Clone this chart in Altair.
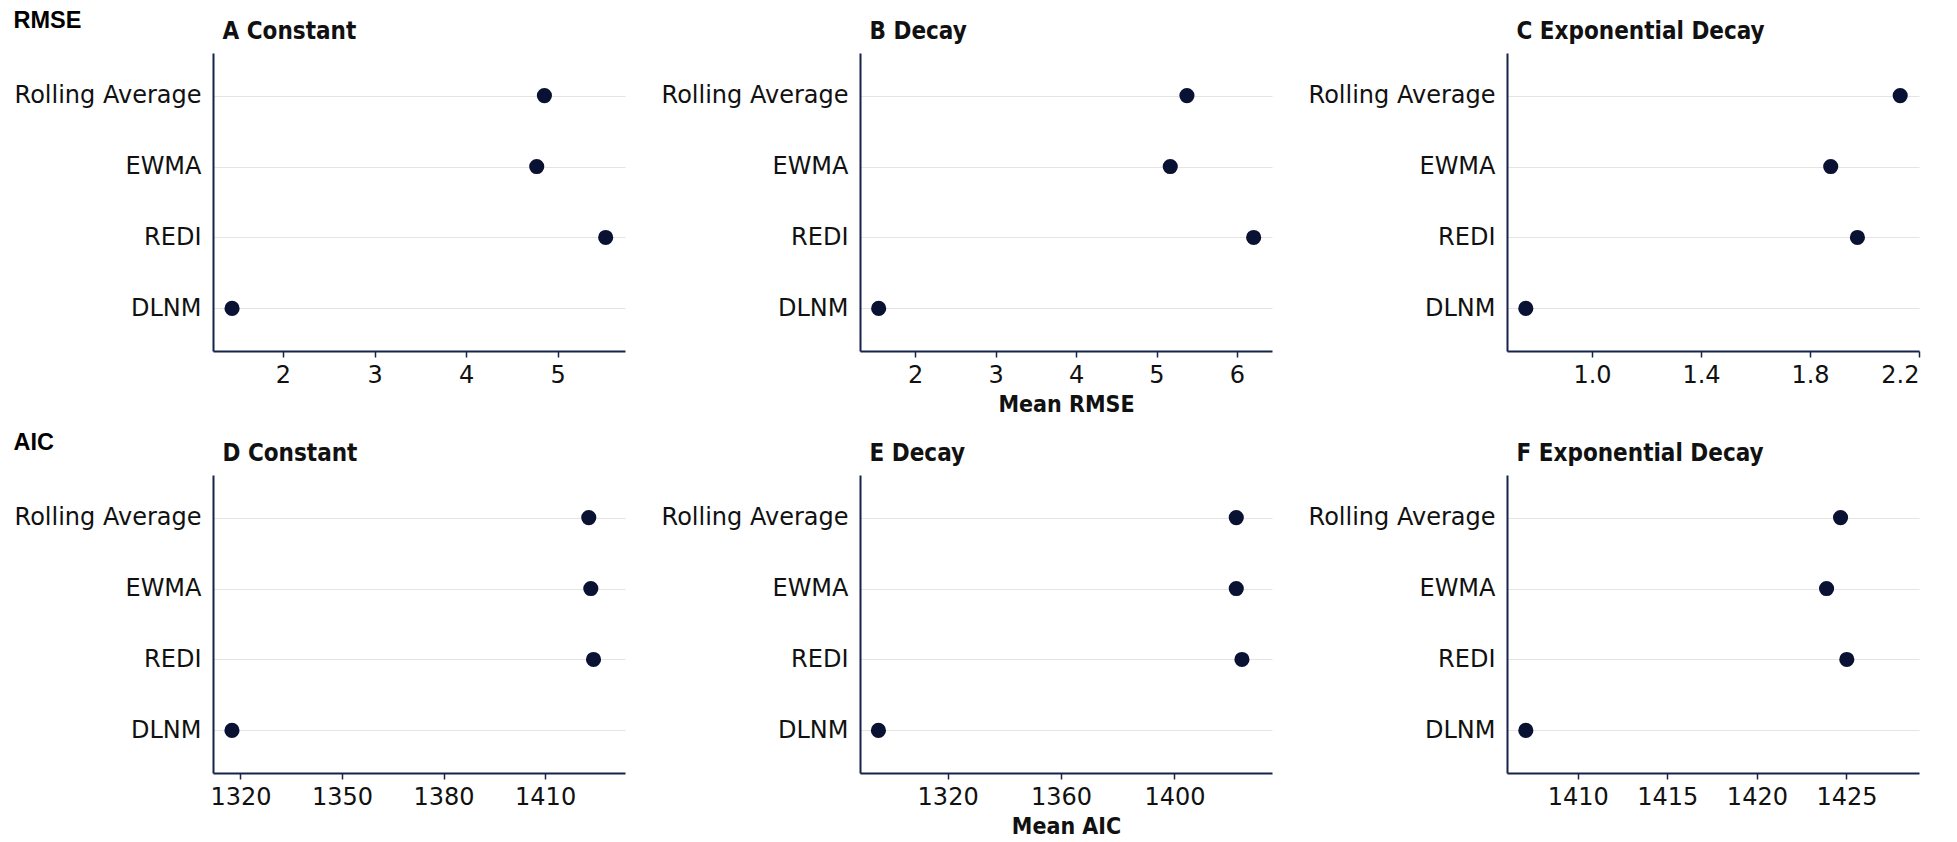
import altair as alt
import pandas as pd

# ---------------- data ----------------
methods = ["Rolling Average", "EWMA", "REDI", "DLNM"]

panel_titles = ["A Constant", "B Decay", "C Exponential Decay",
                "D Constant", "E Decay", "F Exponential Decay"]

rmse_constant = [4.855, 4.771, 5.524, 1.444]
rmse_decay = [5.378, 5.171, 6.207, 1.548]
rmse_expdecay = [2.131, 1.876, 1.974, 0.757]

aic_constant = [1422.9, 1423.5, 1424.3, 1317.5]
aic_decay = [1421.8, 1421.8, 1423.8, 1295.6]
aic_expdecay = [1424.67, 1423.89, 1425.02, 1407.1]

x_domains = [[1.236, 5.735], [1.316, 6.435], [0.688, 2.2],
             [1311.9, 1433.6], [1289.1, 1434.4], [1406.05, 1429.05]]
x_ticks = [[2, 3, 4, 5], [2, 3, 4, 5, 6], [1.0, 1.4, 1.8, 2.2],
           [1320, 1350, 1380, 1410], [1320, 1360, 1400], [1410, 1415, 1420, 1425]]
x_formats = ["d", "d", ".1f", "d", "d", "d"]
row_labels = ["RMSE", "AIC"]
x_titles = ["Mean RMSE", "Mean AIC"]

series = [rmse_constant, rmse_decay, rmse_expdecay,
          aic_constant, aic_decay, aic_expdecay]

# ---------------- style ----------------
LABEL_FONT = "DejaVu Sans, Noto Sans"
TITLE_FONT = "DejaVu Sans Condensed, DejaVu Sans, Noto Sans"
NAVY = "#16234a"
POINT = "#0a1233"
W, H = 412, 298


def panel(i):
    df = pd.DataFrame({"method": methods, "value": series[i]})
    col = i % 3
    row = i // 3
    x_scale = alt.Scale(domain=x_domains[i], nice=False, zero=False)
    y_kwargs = dict(
        orient="left", ticks=False, labelPadding=12, labelLimit=400, grid=True,
        gridColor="#e6e4e2", gridWidth=1.2, domainColor=NAVY, domainWidth=2,
    )
    if col == 0:
        y_axis = alt.Axis(
            title=row_labels[row], titleAngle=0, titleAlign="left",
            titleBaseline="top", titleX=-200, titleY=-44.5,
            titleFont="Liberation Sans", titleFontSize=23.5,
            titleFontWeight="bold", titleColor="#000000", **y_kwargs)
    else:
        y_axis = alt.Axis(title=None, **y_kwargs)
    x_kwargs = dict(orient="bottom", values=x_ticks[i], format=x_formats[i],
                    grid=False, tickSize=6, tickWidth=1.5, tickColor=NAVY,
                    domainColor=NAVY, domainWidth=2, labelPadding=6)
    if col == 1:
        x_axis = alt.Axis(title=x_titles[row], titlePadding=6,
                          titleFont=TITLE_FONT, titleFontSize=23,
                          titleFontWeight="bold", titleColor="#111111",
                          **x_kwargs)
    else:
        x_axis = alt.Axis(title=None, **x_kwargs)

    # panel heading carried by a label-less top axis
    top_axis = alt.Axis(
        orient="top", title=panel_titles[i], labels=False, ticks=False,
        domain=False, grid=False, titleX=9, titleY=-14.5,
        titleAlign="left", titleAnchor="start", titleBaseline="alphabetic",
        titleFont=TITLE_FONT, titleFontSize=24, titleFontWeight="bold",
        titleColor="#111111")

    points = alt.Chart(df).mark_circle(size=230, color=POINT, opacity=1).encode(
        x=alt.X("value:Q", scale=x_scale, axis=x_axis),
        y=alt.Y("method:N", sort=methods, scale=alt.Scale(padding=0.6),
                axis=y_axis),
    )
    heading = alt.Chart(df).mark_circle(size=1, opacity=0).encode(
        x=alt.X("value:Q", scale=x_scale, axis=top_axis),
    )
    return alt.layer(points, heading).properties(width=W, height=H)


chart = (
    alt.concat(*[panel(i) for i in range(6)], columns=3,
               spacing={"row": 124, "column": 235}, bounds="flush")
    .properties(padding={"left": 13, "top": 8, "right": 5, "bottom": 5},
                background="white")
    .configure_view(stroke=None)
    .configure_axis(labelFont=LABEL_FONT, labelFontSize=24, labelColor="#111111")
)

chart.save("out.html", embed_options={"renderer": "svg", "actions": False})
